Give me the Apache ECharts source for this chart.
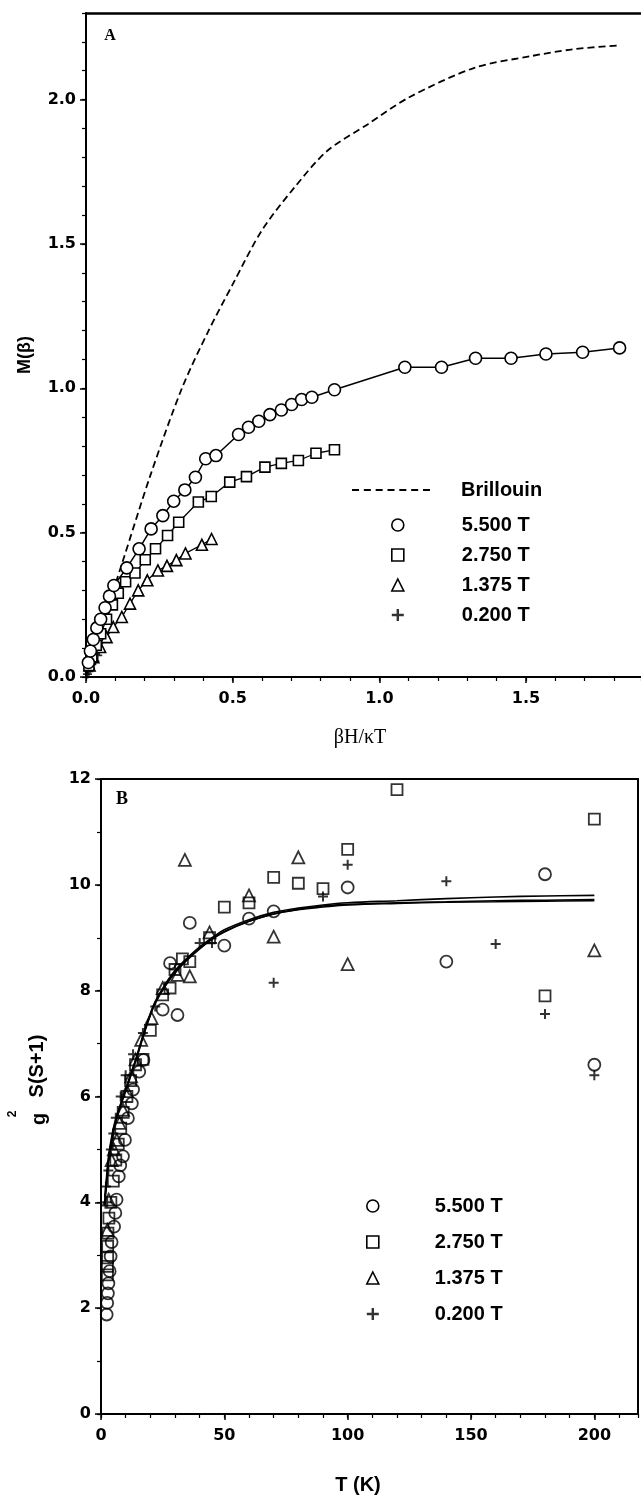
<!DOCTYPE html>
<html>
<head>
<meta charset="utf-8">
<title>M(beta) and g2 S(S+1)</title>
<script src="https://cdn.jsdelivr.net/npm/echarts@6/dist/echarts.min.js"></script>
<style>
  html, body { margin: 0; padding: 0; background: #fff; }
  #chart { width: 641px; height: 1495px; }
</style>
</head>
<body>
<div id="chart"></div>
<script>
// ---- Panel A : M(beta) vs betaH/kT ----
const brillouinA = [[0, 0], [0.06, 0.195], [0.125, 0.40], [0.22, 0.70], [0.327, 1.0], [0.418, 1.2],
  [0.5, 1.36], [0.599, 1.546], [0.71, 1.695], [0.822, 1.822], [0.961, 1.915], [1.10, 2.007],
  [1.324, 2.11], [1.519, 2.151], [1.658, 2.174], [1.818, 2.188]];
const circlesA = [[0.008, 0.05], [0.015, 0.09], [0.025, 0.13], [0.037, 0.17], [0.05, 0.20], [0.065, 0.24],
  [0.08, 0.28], [0.095, 0.317], [0.139, 0.378], [0.181, 0.444], [0.222, 0.513], [0.262, 0.559],
  [0.299, 0.609], [0.337, 0.648], [0.373, 0.692], [0.408, 0.756], [0.443, 0.767], [0.520, 0.840],
  [0.554, 0.865], [0.589, 0.886], [0.627, 0.909], [0.666, 0.925], [0.701, 0.944], [0.735, 0.961],
  [0.770, 0.969], [0.847, 0.995], [1.087, 1.073], [1.212, 1.073], [1.328, 1.104], [1.449, 1.104],
  [1.568, 1.119], [1.693, 1.125], [1.819, 1.140]];
const squaresA = [[0.01, 0.04], [0.02, 0.07], [0.035, 0.11], [0.05, 0.15], [0.07, 0.20], [0.09, 0.25],
  [0.11, 0.29], [0.135, 0.33], [0.167, 0.36], [0.202, 0.406], [0.237, 0.444], [0.278, 0.490],
  [0.316, 0.536], [0.383, 0.606], [0.427, 0.625], [0.490, 0.675], [0.547, 0.694], [0.610, 0.727],
  [0.666, 0.740], [0.724, 0.750], [0.784, 0.775], [0.847, 0.787]];
const trianglesA = [[0.012, 0.04], [0.025, 0.069], [0.048, 0.104], [0.07, 0.138], [0.093, 0.173],
  [0.122, 0.208], [0.15, 0.254], [0.178, 0.30], [0.209, 0.335], [0.245, 0.369], [0.276, 0.385],
  [0.308, 0.405], [0.339, 0.428], [0.395, 0.458], [0.428, 0.478]];
const plusA = [[0.005, 0.01], [0.01, 0.02], [0.015, 0.03], [0.02, 0.045], [0.03, 0.055],
  [0.04, 0.075], [0.045, 0.09]];

// ---- Panel B : g2 S(S+1) vs T (K) ----
const circlesB = [[2.3, 1.88], [2.5, 2.1], [2.8, 2.28], [3.0, 2.47], [3.5, 2.7], [3.9, 2.98], [4.3, 3.25],
  [5.3, 3.54], [5.8, 3.8], [6.3, 4.05], [7.2, 4.49], [7.8, 4.7], [8.9, 4.87], [9.7, 5.18], [10.9, 5.59],
  [12.5, 5.87], [13, 6.13], [15.5, 6.47], [17.2, 6.69], [25, 7.64], [28, 8.52], [31, 7.54], [36, 9.28],
  [50, 8.85], [60, 9.36], [70, 9.5], [100, 9.95], [140, 8.55], [180, 10.2], [200, 6.6]];
const squaresB = [[2.6, 2.63], [2.6, 2.79], [2.7, 2.95], [2.7, 3.17], [2.8, 3.42], [3.2, 3.7], [4, 4.0],
  [5, 4.4], [6, 4.8], [7, 5.1], [8, 5.4], [9, 5.7], [10.5, 6.0], [12, 6.3], [14, 6.6], [17, 6.7],
  [20, 7.25], [25, 7.92], [28, 8.05], [30, 8.4], [33, 8.6], [36, 8.55], [44, 9.0], [50, 9.58],
  [60, 9.66], [70, 10.14], [80, 10.03], [90, 9.93], [100, 10.67], [120, 11.8], [180, 7.9], [200, 11.24]];
const trianglesB = [[2.6, 3.48], [3.1, 4.05], [4.3, 4.8], [5.2, 5.0], [6.4, 5.18], [7.5, 5.5], [8.9, 5.75],
  [10.5, 6.1], [12.2, 6.38], [14, 6.7], [16.3, 7.07], [20.5, 7.48], [25, 8.05], [31, 8.3], [34, 10.47],
  [36, 8.27], [44, 9.1], [60, 9.8], [70, 9.02], [80, 10.52], [100, 8.5], [200, 8.76]];
const plusB = [[2, 4.3], [2.5, 4.0], [3, 4.6], [4, 5.0], [5, 5.3], [6, 5.6], [8, 6.0], [10, 6.4],
  [13, 6.8], [17, 7.2], [22, 7.7], [30, 8.4], [40, 8.9], [45, 8.9], [70, 8.15], [90, 9.78],
  [100, 10.38], [140, 10.07], [160, 8.88], [180, 7.56], [200, 6.4]];
const fitB1 = [[1.5, 4.1], [2, 4.35], [3, 4.85], [4, 5.15], [5, 5.4], [6, 5.58], [8, 5.87], [10, 6.14],
  [12, 6.42], [14, 6.69], [16, 7.0], [18, 7.3], [20, 7.57], [22, 7.8], [26, 8.12], [30, 8.38], [35, 8.62],
  [40, 8.83], [45, 9.0], [50, 9.15], [60, 9.34], [70, 9.48], [80, 9.56], [90, 9.62], [100, 9.66],
  [120, 9.70], [140, 9.74], [160, 9.77], [180, 9.79], [200, 9.80]];
const fitB2 = [[1.5, 4.0], [2, 4.27], [3, 4.78], [4, 5.1], [5, 5.35], [6, 5.55], [8, 5.85], [10, 6.12],
  [12, 6.4], [14, 6.68], [16, 6.98], [18, 7.28], [20, 7.55], [22, 7.78], [26, 8.1], [30, 8.36], [35, 8.6],
  [40, 8.8], [45, 8.98], [50, 9.12], [60, 9.31], [70, 9.45], [80, 9.53], [90, 9.58], [100, 9.62],
  [120, 9.65], [140, 9.67], [160, 9.68], [180, 9.69], [200, 9.70]];
const fitB3 = [[1.5, 3.95], [2, 4.22], [3, 4.74], [4, 5.06], [5, 5.32], [6, 5.53], [8, 5.83], [10, 6.1],
  [12, 6.38], [14, 6.66], [16, 6.96], [18, 7.26], [20, 7.53], [22, 7.76], [26, 8.08], [30, 8.34], [35, 8.58],
  [40, 8.79], [45, 8.97], [50, 9.11], [60, 9.31], [70, 9.45], [80, 9.54], [90, 9.6], [100, 9.63],
  [120, 9.66], [140, 9.68], [160, 9.7], [180, 9.71], [200, 9.72]];

const fieldNames = ['5.500 T', '2.750 T', '1.375 T', '0.200 T'];

const black = '#000';
const xMaxA = 1.892, yMaxA = 2.3, xMaxB = 217.7, yMaxB = 12;
const plusPath = 'path://M4,0H6V4H10V6H6V10H4V6H0V4H4Z';
const dashPath = 'path://M0,0h7v2h-7zM11.8,0h7v2h-7zM23.6,0h7v2h-7zM35.4,0h7v2h-7zM47.2,0h7v2h-7zM59,0h7v2h-7zM70.8,0h7v2h-7z';
const tickFont = { fontFamily: 'DejaVu Sans', fontWeight: 'bold', fontSize: 16, color: black };
const legendFont = { fontFamily: 'Liberation Sans', fontWeight: 'bold', fontSize: 20, color: black, lineHeight: 20 };

const hollowWhite = { color: '#fff', borderColor: black, borderWidth: 1.6 };
const hollowClear = { color: 'rgba(0,0,0,0)', borderColor: black, borderWidth: 1.8 };

function axisBase(gridIndex, min, max, interval, position) {
  return {
    gridIndex, type: 'value', min, max, interval, position,
    axisLine: { show: true, onZero: false, lineStyle: { color: black, width: 2 } },
    axisTick: { show: true, length: 6, lineStyle: { color: black, width: 1.5 } },
    splitLine: { show: false }
  };
}
function minorAxis(gridIndex, min, max, interval, position) {
  return {
    gridIndex, type: 'value', min, max, interval, position,
    axisLine: { show: false, onZero: false },
    axisTick: { show: true, length: 4, lineStyle: { color: black, width: 1.2 } },
    axisLabel: { show: false },
    splitLine: { show: false }
  };
}

const chart = echarts.init(document.getElementById('chart'));

const option = {
  animation: false,
  backgroundColor: '#fff',
  grid: [
    { left: 86, top: 13, width: 555, height: 664 },
    { left: 101, top: 779, width: 537, height: 635, show: true, borderColor: black, borderWidth: 2 }
  ],
  xAxis: [
    Object.assign(axisBase(0, 0, xMaxA, 0.5, 'bottom'),
      { axisLabel: Object.assign({}, tickFont, { margin: 14, showMaxLabel: false, formatter: v => v.toFixed(1) }) }),
    minorAxis(0, 0, xMaxA, 0.1, 'bottom'),
    { gridIndex: 0, type: 'value', min: 0, max: xMaxA, position: 'top',
      axisLine: { show: true, onZero: false, lineStyle: { color: black, width: 2.5 } },
      axisTick: { show: false }, axisLabel: { show: false }, splitLine: { show: false } },
    Object.assign(axisBase(1, 0, xMaxB, 50, 'bottom'),
      { axisLabel: Object.assign({}, tickFont, { margin: 14, showMaxLabel: false }) }),
    minorAxis(1, 0, xMaxB, 10, 'bottom')
  ],
  yAxis: [
    Object.assign(axisBase(0, 0, yMaxA, 0.5, 'left'),
      { axisLabel: Object.assign({}, tickFont, { margin: 10, showMaxLabel: false, formatter: v => v.toFixed(1) }) }),
    minorAxis(0, 0, yMaxA, 0.1, 'left'),
    Object.assign(axisBase(1, 0, yMaxB, 2, 'left'),
      { axisLabel: Object.assign({}, tickFont, { margin: 10 }) }),
    minorAxis(1, 0, yMaxB, 1, 'left')
  ],
  legend: [
    { left: 347, top: 475, itemWidth: 78, itemHeight: 12, selectedMode: false,
      textStyle: Object.assign({}, legendFont, { padding: [0, 0, 0, 26] }),
      data: [{ name: 'Brillouin', icon: dashPath, itemStyle: { color: black, borderWidth: 0 } }] },
    { left: 386, top: 510, orient: 'vertical', itemWidth: 12, itemHeight: 12, itemGap: 10, selectedMode: false,
      textStyle: Object.assign({}, legendFont, { padding: [0, 0, 0, 53] }),
      data: [
        { name: fieldNames[0], icon: 'circle', itemStyle: hollowWhite },
        { name: fieldNames[1], icon: 'rect', itemStyle: hollowWhite },
        { name: fieldNames[2], icon: 'triangle', itemStyle: hollowWhite },
        { name: fieldNames[3], icon: plusPath, itemStyle: { color: black, borderWidth: 0 } }
      ] },
    { left: 361, top: 1191, orient: 'vertical', itemWidth: 12, itemHeight: 12, itemGap: 16, selectedMode: false,
      textStyle: Object.assign({}, legendFont, { padding: [0, 0, 0, 51] }),
      data: [
        { name: fieldNames[0], icon: 'circle', itemStyle: hollowWhite },
        { name: fieldNames[1], icon: 'rect', itemStyle: hollowWhite },
        { name: fieldNames[2], icon: 'triangle', itemStyle: hollowWhite },
        { name: fieldNames[3], icon: plusPath, itemStyle: { color: black, borderWidth: 0 } }
      ] }
  ],
  graphic: [
    { type: 'text', x: 110, y: 36, style: { text: 'A', font: 'bold 16px "Liberation Serif"', fill: black, align: 'center', verticalAlign: 'middle' } },
    { type: 'text', x: 122, y: 799, style: { text: 'B', font: 'bold 18px "Liberation Serif"', fill: black, align: 'center', verticalAlign: 'middle' } },
    { type: 'text', x: 25, y: 355, rotation: Math.PI / 2, style: { text: 'M(β)', font: 'bold 18px "Liberation Sans"', fill: black, align: 'center', verticalAlign: 'middle' } },
    { type: 'text', x: 360, y: 738, style: { text: 'βH/κT', font: '20px "Liberation Serif"', fill: black, align: 'center', verticalAlign: 'middle' } },
    { type: 'text', x: 37, y: 1066, rotation: Math.PI / 2, style: { text: 'S(S+1)', font: 'bold 20px "Liberation Sans"', fill: black, align: 'center', verticalAlign: 'middle' } },
    { type: 'text', x: 39, y: 1119, rotation: Math.PI / 2, style: { text: 'g', font: 'bold 20px "Liberation Sans"', fill: black, align: 'center', verticalAlign: 'middle' } },
    { type: 'text', x: 13, y: 1114, rotation: Math.PI / 2, style: { text: '2', font: 'bold 12px "Liberation Sans"', fill: black, align: 'center', verticalAlign: 'middle' } },
    { type: 'text', x: 358, y: 1485, style: { text: 'T (K)', font: 'bold 20px "Liberation Sans"', fill: black, align: 'center', verticalAlign: 'middle' } }
  ],
  series: [
    { name: 'Brillouin', type: 'line', xAxisIndex: 0, yAxisIndex: 0, data: brillouinA, smooth: 0.3,
      symbol: 'none', lineStyle: { color: black, width: 1.8, type: [7, 4] }, z: 2 },
    { name: fieldNames[3], type: 'scatter', xAxisIndex: 0, yAxisIndex: 0, data: plusA,
      symbol: plusPath, symbolSize: 9, itemStyle: { color: black }, z: 3 },
    { name: fieldNames[2], type: 'line', xAxisIndex: 0, yAxisIndex: 0, data: trianglesA,
      symbol: 'triangle', symbolSize: 11, showAllSymbol: true,
      itemStyle: hollowWhite, lineStyle: { color: black, width: 1.3 }, z: 4 },
    { name: fieldNames[1], type: 'line', xAxisIndex: 0, yAxisIndex: 0, data: squaresA,
      symbol: 'rect', symbolSize: 10, showAllSymbol: true,
      itemStyle: hollowWhite, lineStyle: { color: black, width: 1.3 }, z: 5 },
    { name: fieldNames[0], type: 'line', xAxisIndex: 0, yAxisIndex: 0, data: circlesA,
      symbol: 'circle', symbolSize: 12, showAllSymbol: true,
      itemStyle: hollowWhite, lineStyle: { color: black, width: 1.5 }, z: 6 },

    { name: 'fit 1', type: 'line', xAxisIndex: 3, yAxisIndex: 2, data: fitB1, smooth: 0.4,
      symbol: 'none', lineStyle: { color: black, width: 1.6 }, z: 2 },
    { name: 'fit 2', type: 'line', xAxisIndex: 3, yAxisIndex: 2, data: fitB2, smooth: 0.4,
      symbol: 'none', lineStyle: { color: black, width: 1.6 }, z: 2 },
    { name: 'fit 3', type: 'line', xAxisIndex: 3, yAxisIndex: 2, data: fitB3, smooth: 0.4,
      symbol: 'none', lineStyle: { color: black, width: 1.6 }, z: 2 },
    { name: fieldNames[0], type: 'scatter', xAxisIndex: 3, yAxisIndex: 2, data: circlesB,
      symbol: 'circle', symbolSize: 12, itemStyle: hollowClear, z: 3 },
    { name: fieldNames[1], type: 'scatter', xAxisIndex: 3, yAxisIndex: 2, data: squaresB,
      symbol: 'rect', symbolSize: 11, itemStyle: hollowClear, z: 3 },
    { name: fieldNames[2], type: 'scatter', xAxisIndex: 3, yAxisIndex: 2, data: trianglesB,
      symbol: 'triangle', symbolSize: 12, itemStyle: hollowClear, z: 3 },
    { name: fieldNames[3], type: 'scatter', xAxisIndex: 3, yAxisIndex: 2, data: plusB,
      symbol: plusPath, symbolSize: 10, itemStyle: { color: black }, z: 3 }
  ]
};

chart.setOption(option);
</script>
</body>
</html>
